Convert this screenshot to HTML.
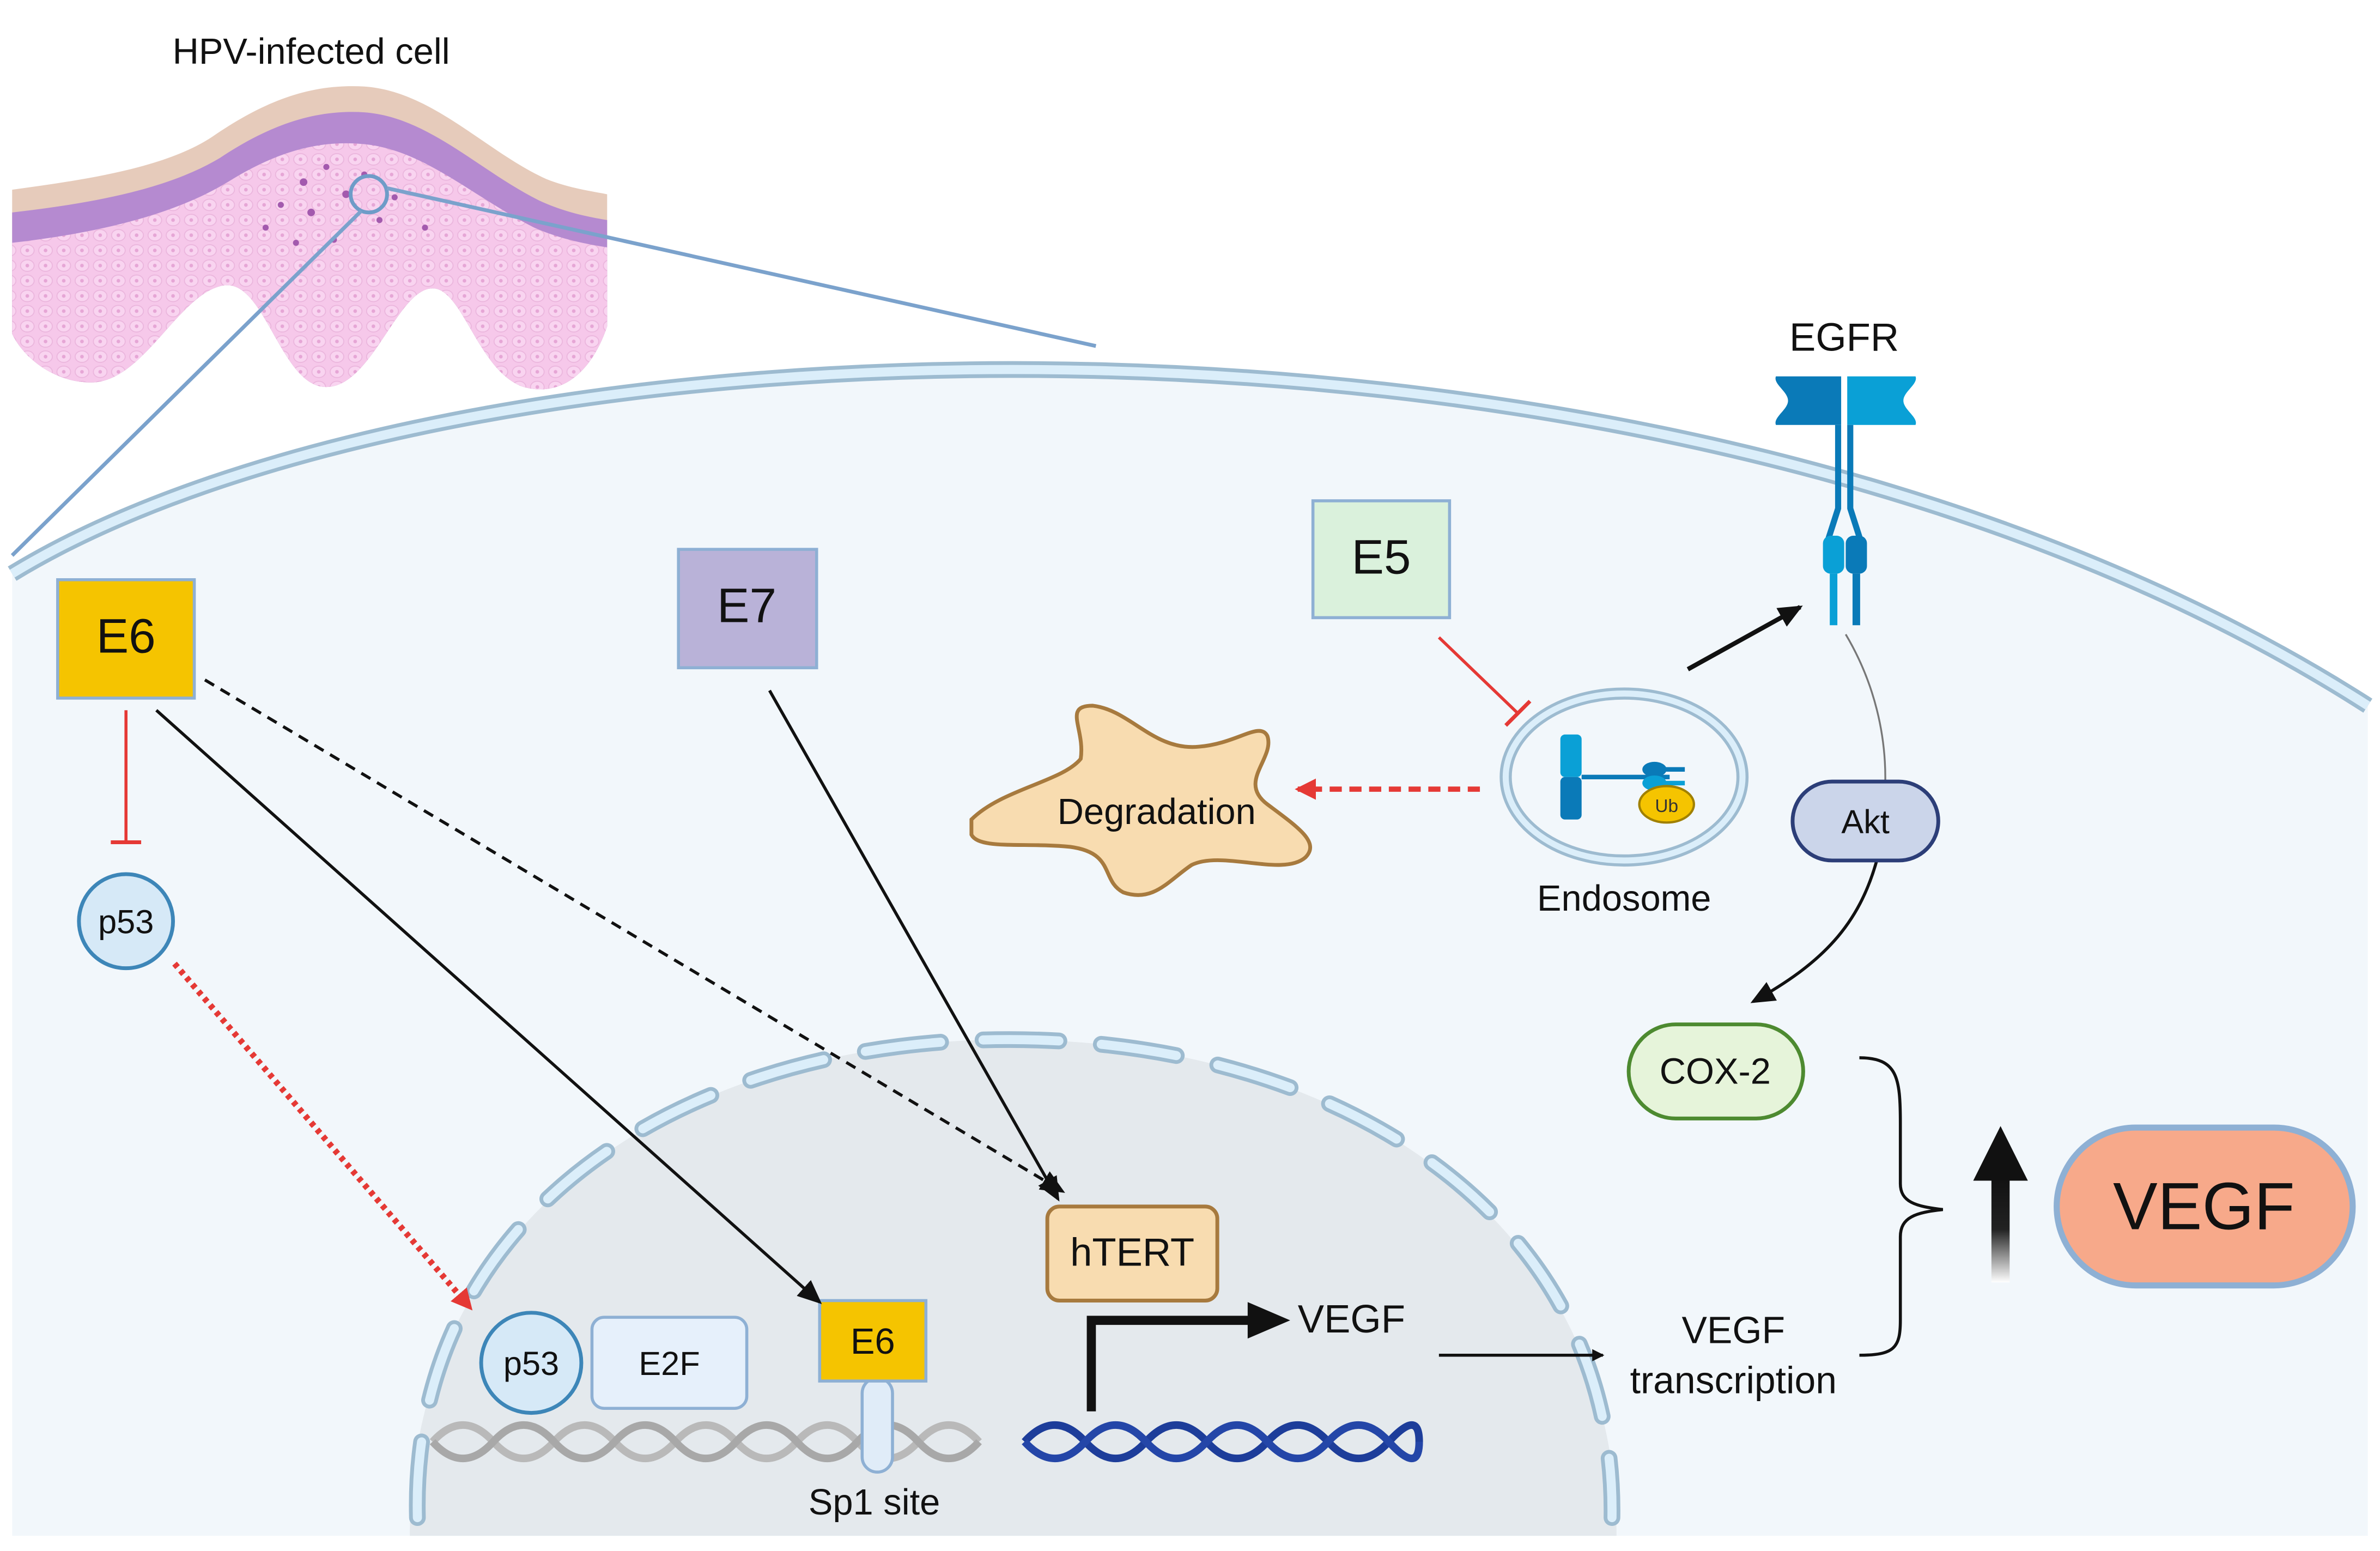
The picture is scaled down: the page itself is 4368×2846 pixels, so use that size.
<!DOCTYPE html>
<html><head><meta charset="utf-8"><style>
html,body{margin:0;padding:0;background:#fff;}
svg{display:block;}
text{font-family:"Liberation Sans",sans-serif;}
</style></head><body>
<svg width="4368" height="2846" viewBox="0 0 1568 1022" preserveAspectRatio="none" xmlns="http://www.w3.org/2000/svg">
<defs>
<marker id="ab" markerWidth="8" markerHeight="8" refX="7" refY="4" orient="auto" markerUnits="userSpaceOnUse" viewBox="0 0 8 8"><path d="M0,0 L8,4 L0,8 z" fill="#111"/></marker>
<marker id="abig" markerWidth="16" markerHeight="16" refX="14" refY="8" orient="auto" markerUnits="userSpaceOnUse" viewBox="0 0 16 16"><path d="M0,1 L16,8 L0,15 z" fill="#111"/></marker>
<marker id="ar" markerWidth="14" markerHeight="14" refX="12" refY="7" orient="auto" markerUnits="userSpaceOnUse" viewBox="0 0 14 14"><path d="M0,0 L14,7 L0,14 z" fill="#e53935"/></marker>
<linearGradient id="up" x1="0" y1="1" x2="0" y2="0"><stop offset="0" stop-color="#fff"/><stop offset="0.5" stop-color="#222"/><stop offset="1" stop-color="#111"/></linearGradient>
<pattern id="cells" width="12" height="10" patternUnits="userSpaceOnUse"><rect width="12" height="10" fill="#f6c8ea"/><ellipse cx="6" cy="5" rx="4.5" ry="3.8" fill="#f9d4f0" stroke="#eab4dc" stroke-width="0.6"/><circle cx="6" cy="5" r="1.2" fill="#e6a6d6"/></pattern>
</defs>

<!-- tissue -->
<text x="205" y="42" font-size="24" text-anchor="middle" fill="#111">HPV-infected cell</text>
<path d="M8,125 C60,118 110,110 140,90 C175,66 205,55 240,57 C285,60 320,100 360,118 C375,124 390,126 400,128 L400,215 C390,245 370,262 345,255 C315,245 305,190 285,190 C262,190 245,255 215,255 C185,255 175,185 148,188 C118,192 95,252 60,252 C35,252 15,235 8,220 Z" fill="#e6cbbb"/>
<path d="M8,140 C60,134 110,125 145,104 C178,82 208,72 240,74 C282,77 315,112 355,132 C372,140 388,143 400,145 L400,215 C390,245 370,262 345,255 C315,245 305,190 285,190 C262,190 245,255 215,255 C185,255 175,185 148,188 C118,192 95,252 60,252 C35,252 15,235 8,220 Z" fill="#b58ad0"/>
<path d="M8,160 C60,154 112,143 150,120 C182,100 210,92 240,95 C280,99 312,130 352,150 C370,158 388,161 400,163 L400,215 C390,245 370,262 345,255 C315,245 305,190 285,190 C262,190 245,255 215,255 C185,255 175,185 148,188 C118,192 95,252 60,252 C35,252 15,235 8,220 Z" fill="url(#cells)"/>
<g fill="#a35aae">
<circle cx="200" cy="120" r="2.5"/><circle cx="215" cy="110" r="2"/><circle cx="228" cy="128" r="2.5"/><circle cx="185" cy="135" r="2"/><circle cx="240" cy="115" r="2"/><circle cx="260" cy="130" r="2"/><circle cx="205" cy="140" r="2.5"/><circle cx="175" cy="150" r="2"/><circle cx="250" cy="145" r="2"/><circle cx="280" cy="150" r="2"/><circle cx="195" cy="160" r="2"/><circle cx="220" cy="158" r="2"/>
</g>
<circle cx="243" cy="128" r="12" fill="none" stroke="#6e9cc8" stroke-width="2.5"/>
<line x1="238" y1="139" x2="8" y2="366" stroke="#7ba2cc" stroke-width="2.5"/>
<line x1="255" y1="124" x2="722" y2="228" stroke="#7ba2cc" stroke-width="2.5"/>

<!-- cell -->
<path d="M8,378 C300,200 1100,170 1560,465 L1560,1012 L8,1012 Z" fill="#f2f7fb"/>
<path d="M8,378 C300,200 1100,170 1560,465" fill="none" stroke="#9dbbd0" stroke-width="11"/>
<path d="M8,378 C300,200 1100,170 1560,465" fill="none" stroke="#dbeefa" stroke-width="6"/>

<!-- nucleus -->
<path d="M270,1012 C270,800 450,685 665,685 C880,685 1065,800 1065,1012 Z" fill="#e4e9ed"/>
<path d="M275,1000 C270,800 450,685 665,685 C880,685 1065,800 1062,1000" fill="none" stroke="#9dbbd0" stroke-width="11" stroke-dasharray="50,28" stroke-linecap="round"/>
<path d="M275,1000 C270,800 450,685 665,685 C880,685 1065,800 1062,1000" fill="none" stroke="#dbeefa" stroke-width="6" stroke-dasharray="50,28" stroke-linecap="round"/>

<!-- DNA -->
<g fill="none" stroke-width="5">
<path d="M285,950 q20,-22 40,0 t40,0 t40,0 t40,0 t40,0 t40,0 t40,0 t40,0 t40,0" stroke="#b9b9b9"/>
<path d="M285,950 q20,22 40,0 t40,0 t40,0 t40,0 t40,0 t40,0 t40,0 t40,0 t40,0" stroke="#a8a8a8"/>
<path d="M675,950 q20,-22 40,0 t40,0 t40,0 t40,0 t40,0 t40,0 t20,0" stroke="#1d3d9a"/>
<path d="M675,950 q20,22 40,0 t40,0 t40,0 t40,0 t40,0 t40,0 t20,0" stroke="#2446a8"/>
</g>
<rect x="568" y="908" width="20" height="62" rx="10" fill="#e0ecf8" stroke="#8eb0d4" stroke-width="2"/>
<text x="576" y="998" font-size="24" text-anchor="middle" fill="#111">Sp1 site</text>

<circle cx="350" cy="898" r="33" fill="#d6e9f7" stroke="#3d86b8" stroke-width="2.5"/>
<text x="350" y="906" font-size="22" text-anchor="middle" fill="#111">p53</text>
<rect x="390" y="868" width="102" height="60" rx="8" fill="#e6f0fb" stroke="#8eb0d4" stroke-width="2"/>
<text x="441" y="906" font-size="22" text-anchor="middle" fill="#111">E2F</text>
<rect x="540" y="857" width="70" height="53" fill="#f5c400" stroke="#8eb0d4" stroke-width="2"/>
<text x="575" y="892" font-size="24" text-anchor="middle" fill="#111">E6</text>

<rect x="690" y="795" width="112" height="62" rx="8" fill="#f8dcb0" stroke="#a77a3e" stroke-width="2.5"/>
<text x="746" y="834" font-size="26" text-anchor="middle" fill="#111">hTERT</text>

<path d="M719,930 L719,870 L830,870" fill="none" stroke="#111" stroke-width="6"/>
<path d="M822,858 L850,870 L822,882 z" fill="#111"/>
<text x="855" y="878" font-size="26" fill="#111">VEGF</text>
<line x1="948" y1="893" x2="1056" y2="893" stroke="#111" stroke-width="2" marker-end="url(#ab)"/>
<text x="1142" y="885" font-size="25" text-anchor="middle" fill="#111">VEGF</text>
<text x="1142" y="918" font-size="25" text-anchor="middle" fill="#111">transcription</text>

<!-- E boxes -->
<rect x="38" y="382" width="90" height="78" fill="#f5c400" stroke="#8eb0d4" stroke-width="2"/>
<text x="83" y="430" font-size="32" text-anchor="middle" fill="#111">E6</text>
<rect x="447" y="362" width="91" height="78" fill="#b9b2d8" stroke="#8eb0d4" stroke-width="2"/>
<text x="492" y="410" font-size="32" text-anchor="middle" fill="#111">E7</text>
<rect x="865" y="330" width="90" height="77" fill="#daf1dc" stroke="#8eb0d4" stroke-width="2"/>
<text x="910" y="378" font-size="32" text-anchor="middle" fill="#111">E5</text>

<!-- p53 -->
<circle cx="83" cy="607" r="31" fill="#d6e9f7" stroke="#3d86b8" stroke-width="2.5"/>
<text x="83" y="615" font-size="22" text-anchor="middle" fill="#111">p53</text>

<!-- arrows -->
<line x1="83" y1="468" x2="83" y2="555" stroke="#e53935" stroke-width="2"/>
<line x1="73" y1="555" x2="93" y2="555" stroke="#e53935" stroke-width="2.5"/>
<line x1="115" y1="635" x2="310" y2="862" stroke="#e53935" stroke-width="4" stroke-dasharray="3,3" marker-end="url(#ar)"/>
<line x1="103" y1="468" x2="540" y2="858" stroke="#111" stroke-width="2" marker-end="url(#abig)"/>
<line x1="135" y1="448" x2="700" y2="785" stroke="#111" stroke-width="2" stroke-dasharray="7,5" marker-end="url(#abig)"/>
<line x1="507" y1="455" x2="697" y2="790" stroke="#111" stroke-width="2" marker-end="url(#abig)"/>
<line x1="948" y1="420" x2="1000" y2="470" stroke="#e53935" stroke-width="2"/>
<line x1="992" y1="478" x2="1008" y2="462" stroke="#e53935" stroke-width="2.5"/>
<line x1="975" y1="520" x2="855" y2="520" stroke="#e53935" stroke-width="3.5" stroke-dasharray="8,5" marker-end="url(#ar)"/>
<line x1="1112" y1="441" x2="1186" y2="400" stroke="#111" stroke-width="3" marker-end="url(#abig)"/>
<path d="M1216,418 C1235,450 1243,485 1242,518" fill="none" stroke="#777" stroke-width="1.2"/>
<path d="M1237,565 C1225,610 1200,635 1155,660" fill="none" stroke="#111" stroke-width="2" marker-end="url(#abig)"/>

<!-- degradation -->
<path d="M640,540 C660,520 700,515 712,500 C715,480 700,465 720,465 C745,468 760,495 790,492 C815,490 830,475 835,485 C840,500 815,515 835,530 C855,545 870,555 860,565 C845,578 805,560 785,570 C770,580 760,595 740,588 C725,580 735,562 705,558 C675,555 645,560 640,550 Z" fill="#f8dcb0" stroke="#a77a3e" stroke-width="2.5"/>
<text x="762" y="543" font-size="24" text-anchor="middle" fill="#111">Degradation</text>

<!-- endosome -->
<ellipse cx="1070" cy="512" rx="78" ry="55" fill="#f2f7fb" stroke="#9dbbd0" stroke-width="8"/>
<ellipse cx="1070" cy="512" rx="78" ry="55" fill="none" stroke="#dbeefa" stroke-width="4"/>
<rect x="1028" y="484" width="14" height="28" rx="3" fill="#0aa0d6"/>
<rect x="1028" y="512" width="14" height="28" rx="3" fill="#0a7ab8"/>
<path d="M1042,512 L1100,512" stroke="#0a7ab8" stroke-width="3"/>
<ellipse cx="1090" cy="507" rx="8" ry="5" fill="#0a7ab8"/><ellipse cx="1090" cy="516" rx="8" ry="5" fill="#0aa0d6"/>
<line x1="1090" y1="507" x2="1110" y2="507" stroke="#0a7ab8" stroke-width="3"/>
<line x1="1090" y1="516" x2="1110" y2="516" stroke="#0aa0d6" stroke-width="3"/>
<ellipse cx="1098" cy="530" rx="18" ry="12" fill="#f5c400" stroke="#a08000" stroke-width="1.5"/>
<text x="1098" y="535" font-size="12" text-anchor="middle" fill="#333">Ub</text>
<text x="1070" y="600" font-size="24" text-anchor="middle" fill="#111">Endosome</text>

<!-- EGFR -->
<text x="1215" y="231" font-size="26" text-anchor="middle" fill="#111">EGFR</text>
<path d="M1170,248 L1213,248 L1213,280 L1170,280 C1168,275 1178,270 1178,264 C1178,258 1168,253 1170,248 Z" fill="#0a7ab8"/>
<path d="M1217,248 L1262,248 C1264,253 1254,258 1254,264 C1254,270 1264,275 1262,280 L1217,280 Z" fill="#0aa0d6"/>
<path d="M1211,280 L1211,335 L1203,360 M1219,280 L1219,335 L1227,360" fill="none" stroke="#0a7ab8" stroke-width="4"/>
<rect x="1201" y="353" width="14" height="25" rx="5" fill="#0aa0d6"/>
<rect x="1216" y="353" width="14" height="25" rx="5" fill="#0a7ab8"/>
<line x1="1208" y1="378" x2="1208" y2="412" stroke="#0aa0d6" stroke-width="5"/>
<line x1="1223" y1="378" x2="1223" y2="412" stroke="#0a7ab8" stroke-width="5"/>

<!-- Akt / COX-2 -->
<rect x="1181" y="515" width="96" height="52" rx="26" fill="#cbd5ea" stroke="#2c3e78" stroke-width="2.5"/>
<text x="1229" y="549" font-size="22" text-anchor="middle" fill="#111">Akt</text>
<rect x="1073" y="675" width="115" height="62" rx="31" fill="#e6f4da" stroke="#4d8a30" stroke-width="2.5"/>
<text x="1130" y="714" font-size="24" text-anchor="middle" fill="#111">COX-2</text>

<!-- brace -->
<path d="M1225,697 C1250,697 1252,710 1252,740 L1252,780 C1252,792 1262,795 1280,797 C1262,799 1252,802 1252,815 L1252,870 C1252,888 1248,893 1225,893" fill="none" stroke="#111" stroke-width="2"/>
<rect x="1312" y="775" width="12" height="70" fill="url(#up)"/>
<path d="M1300,778 L1318,742 L1336,778 z" fill="#111"/>

<rect x="1355" y="743" width="195" height="104" rx="52" fill="#f7a98a" stroke="#8eb0d4" stroke-width="4"/>
<text x="1452" y="810" font-size="44" text-anchor="middle" fill="#111">VEGF</text>
</svg>
</body></html>
